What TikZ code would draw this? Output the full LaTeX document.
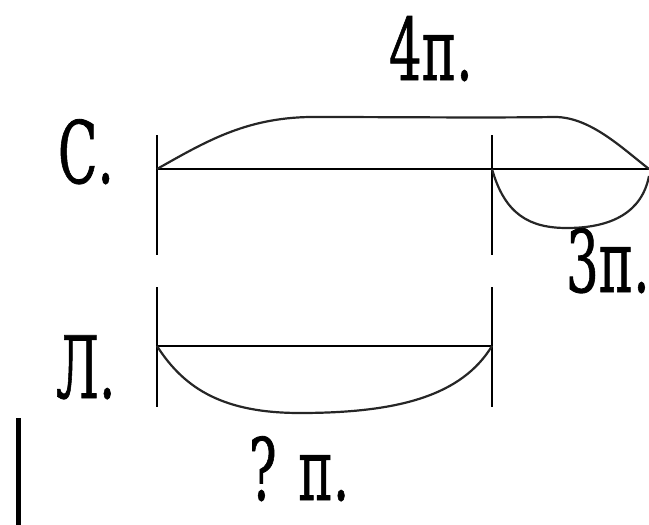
\documentclass[tikz,border=0pt]{standalone}
\usepackage{fontspec}
\usepackage{graphicx}
\newfontfamily\lblfont[FakeBold=1]{DejaVu Serif}
\tikzset{
  lbl/.style={anchor=base west, inner sep=0pt, outer sep=0pt,
    font=\lblfont\fontsize{86}{100}\selectfont},
  hline/.style={line width=2.8pt},
  vline/.style={line width=2.2pt},
  brace/.style={line width=2.2pt, color=black!85},
}
\newcommand{\narrow}[1]{\scalebox{0.6}[1]{\lblfont #1}}
\begin{document}
\begin{tikzpicture}[x=1pt,y=-1pt]
\useasboundingbox (0,0) rectangle (649,525);
% points
\coordinate (sA) at (157,169);
\coordinate (sB) at (492,169);
\coordinate (sC) at (649,169);
\coordinate (lA) at (157,346);
\coordinate (lB) at (492,346);
% horizontal segments
\draw[hline] (sA) -- (sC);
\draw[hline] (lA) -- (lB);
% vertical ticks
\draw[vline] (157,135) -- (157,255);
\draw[vline] (157,287) -- (157,407);
\draw[vline] (492,135) -- (492,255);
\draw[vline] (492,287) -- (492,407);
% top brace (4 parts)
\draw[brace] (sA) .. controls (205,142) and (245,118) .. (310,117)
  .. controls (400,117) and (480,118) .. (555,117)
  .. controls (590,117) and (622,148) .. (sC);
% small brace (3 parts)
\draw[brace] (sB) .. controls (505,215) and (530,228) .. (567,228)
  .. controls (612,228) and (642,212) .. (649,176);
% bottom brace (? parts)
\draw[brace] (lA) .. controls (185,390) and (225,413) .. (300,413)
  .. controls (400,413) and (462,395) .. (lB);
% cursor bar
\draw[line width=5pt] (18.5,418) -- (18.5,525);
% labels
\node[lbl] (t4) at (389,80) {\narrow{4п.}};
\node[lbl] (tS) at (58,183) {\narrow{С.}};
\node[lbl] (t3) at (566,292) {\narrow{3п.}};
\node[lbl] (tL) at (56,398) {\narrow{Л.}};
\node[lbl] (tQ) at (249,500) {\narrow{? п.}};
\end{tikzpicture}
\end{document}
